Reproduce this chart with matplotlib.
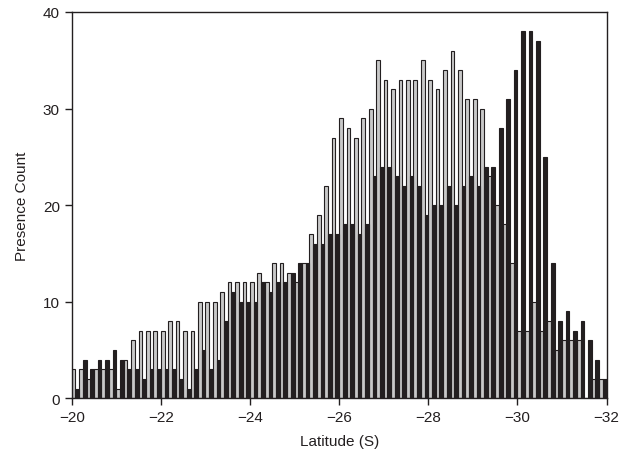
import numpy as np
import matplotlib
matplotlib.use("Agg")
import matplotlib.pyplot as plt

plt.rcParams['font.family'] = ['Liberation Sans', 'DejaVu Sans']

# presence counts per 10' latitude bin, starting at 20°S
light_counts = [3, 3, 2, 3, 3, 3, 1, 4, 6, 7, 7, 7, 7, 8, 8, 7, 7, 10,
                10, 10, 11, 12, 12, 12, 12, 13, 12, 14, 14, 13, 12, 14, 17, 19,
                22, 27, 29, 28, 27, 29, 30, 35, 33, 32, 33, 33, 33, 35, 33, 32,
                34, 36, 34, 31, 31, 30, 23, 20, 18, 14, 7, 7, 10, 7, 8, 5,
                6, 6, 6, 0, 2, 2]
dark_counts = [1, 4, 3, 4, 4, 5, 4, 3, 3, 2, 3, 3, 3, 3, 2, 1, 3, 5,
               3, 4, 8, 11, 10, 10, 10, 12, 11, 12, 12, 13, 14, 14, 16, 16,
               17, 17, 18, 18, 17, 18, 23, 24, 24, 23, 22, 23, 22, 19, 20, 20,
               22, 20, 22, 23, 22, 24, 24, 28, 31, 34, 38, 38, 37, 25, 14, 8,
               9, 7, 8, 6, 4, 2]
lat_start = -20.0
bin_size = 1.0 / 6.0
x_ticks = [-20, -22, -24, -26, -28, -30, -32]
y_ticks = [0, 10, 20, 30, 40]

idx = np.arange(len(light_counts))
bin_left = lat_start - idx * bin_size
half = bin_size / 2

fig = plt.figure(figsize=(6.33, 4.64), dpi=100)
ax = fig.add_axes([0.1133, 0.1394, 0.845, 0.8326])

ax.bar(bin_left - half / 2, light_counts, width=half, color='#c8c8c8',
       edgecolor='#231f20', linewidth=0.8, zorder=2)
ax.bar(bin_left - 3 * half / 2, dark_counts, width=half, color='#231f20',
       edgecolor='#231f20', linewidth=0.8, zorder=3)

ax.set_xlim(-20, -32)
ax.set_ylim(0, 40)
ax.set_xticks(x_ticks)
ax.set_xticklabels(['\u2212%d' % abs(t) for t in x_ticks])
ax.set_yticks(y_ticks)

ax.tick_params(direction='out', length=5, width=1, labelsize=11, colors='#231f20')
for spine in ax.spines.values():
    spine.set_color('#231f20')
    spine.set_linewidth(1)

ax.set_xlabel('Latitude (S)', fontsize=11, labelpad=7, color='#231f20')
ax.set_ylabel('Presence Count', fontsize=11, labelpad=10, color='#231f20')

fig.savefig('out.png', dpi=100, facecolor='white')
